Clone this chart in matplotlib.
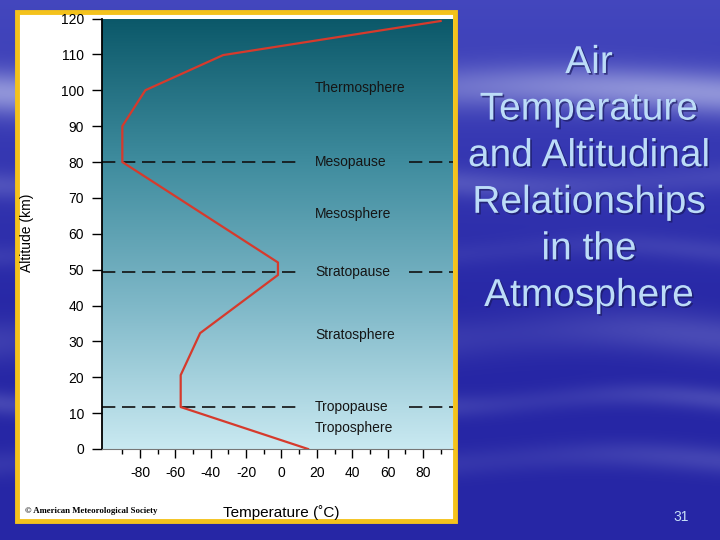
import numpy as np
import matplotlib
matplotlib.use("Agg")
import matplotlib.pyplot as plt
import matplotlib.patheffects as pe
from matplotlib.patches import Rectangle
from matplotlib.colors import LinearSegmentedColormap

plt.rcParams['font.family'] = ['Liberation Sans', 'DejaVu Sans']
plt.rcParams['axes.unicode_minus'] = False

# Data: temperature profile of the standard atmosphere
temperature = [15, -57, -57, -46, -2, -2, -90, -90, -77, -33, 90]
altitude = [0, 11.7, 20.6, 32.3, 48.5, 52, 80, 90, 100, 109.8, 119.3]

# boundaries (dashed) and layer names
pause_names = ["Mesopause", "Stratopause", "Tropopause"]
pause_alt = [80, 49.3, 11.7]
layer_names = ["Thermosphere", "Mesosphere", "Stratosphere", "Troposphere"]
layer_alt = [100.6, 65.5, 31.8, 5.8]

y_ticks = list(range(0, 130, 10))
x_ticks = list(range(-80, 100, 20))
x_minor = list(range(-90, 100, 20))

title_lines = ["Air", "Temperature", "and Altitudinal", "Relationships", "in the", "Atmosphere"]

fig = plt.figure(figsize=(7.2, 5.4), dpi=100)

# slide background (blue sky with soft light streaks)
bg = fig.add_axes([0, 0, 1, 1], zorder=-10)
H, W = 540, 720
yy, xx = np.mgrid[0:H, 0:W]
base = np.array([38, 38, 165]) / 255
light = np.array([200, 205, 240]) / 255
top = np.array([80, 85, 200]) / 255
t = np.clip(1 - yy / 320, 0, 1)[..., None]
img = base * (1 - t * 0.7) + top * t * 0.7
bands = [(92, 22, 0.6, 700, 0.0), (180, 14, 0.22, 500, 1.0), (335, 22, 0.22, 420, 2.0),
         (400, 12, 0.2, 380, 0.5), (460, 14, 0.18, 450, 2.5), (250, 12, 0.12, 400, 1.5)]
for c, w, s, period, ph in bands:
    amp = s * np.exp(-((yy - c - 6 * np.sin(2 * np.pi * xx / period + ph)) / w) ** 2) \
        * (0.75 + 0.25 * np.cos(2 * np.pi * xx / period + ph))
    img = img * (1 - amp[..., None]) + light * amp[..., None]
bg.imshow(img, aspect='auto', extent=(0, W, H, 0))
bg.set_xlim(0, W)
bg.set_ylim(H, 0)
bg.axis('off')

# white panel with yellow frame
fig.patches.append(Rectangle((17 / 720, 19 / 540), 438 / 720, 509 / 540, transform=fig.transFigure,
                             facecolor='white', edgecolor='#f4c21c', linewidth=3.5, zorder=-5))

ax = fig.add_axes([102 / 720, 1 - 449 / 540, 351 / 720, 430.5 / 540])
xlim = (-101.5, 97)
ylim = (0, 120)

# teal gradient behind the plot
cmap = LinearSegmentedColormap.from_list('sky', ['#c9e9f1', '#7fb8c8', '#3f8c9e', '#0b5869'])
grad = np.linspace(0, 1, 256)[:, None]
ax.imshow(grad, cmap=cmap, aspect='auto', extent=(xlim[0], xlim[1], ylim[0], ylim[1]),
          origin='lower', zorder=0)

ax.plot(temperature, altitude, color='#d63a2c', lw=1.6, zorder=3)

for a in pause_alt:
    ax.plot([xlim[0], 9.5], [a, a], color='#111111', lw=1.2, ls=(0, (8, 4)), zorder=2)
    ax.plot([72, xlim[1]], [a, a], color='#111111', lw=1.2, ls=(0, (8, 4)), zorder=2)
for name, a in zip(pause_names, pause_alt):
    ax.text(19, a, name, fontsize=10, color='#151515', va='center', ha='left', zorder=4)
for name, a in zip(layer_names, layer_alt):
    ax.text(19, a, name, fontsize=10, color='#151515', va='center', ha='left', zorder=4)

ax.set_xlim(xlim)
ax.set_ylim(ylim)
ax.set_yticks(y_ticks)
ax.set_xticks(x_ticks)
ax.set_xticks(x_minor, minor=True)
ax.tick_params(axis='y', length=7, width=1, pad=6, labelsize=10, direction='out')
ax.tick_params(axis='x', which='major', length=6.5, width=1, pad=6, labelsize=10, direction='out')
ax.tick_params(axis='x', which='minor', length=3.5, width=1)
for s in ['top', 'right']:
    ax.spines[s].set_visible(False)
ax.spines['left'].set_linewidth(1.3)
ax.spines['bottom'].set_color('#777777')

fig.text(27 / 720, 1 - 233 / 540, "Altitude (km)", rotation=90, fontsize=10, ha='center', va='center')
fig.text(281 / 720, 1 - 513 / 540, "Temperature (˚C)", fontsize=11, ha='center', va='center')
fig.text(25 / 720, 1 - 511 / 540, "© American Meteorological Society", family='Liberation Serif',
         fontweight='bold', fontsize=6.3, ha='left', va='center')

shadow = [pe.withSimplePatchShadow(offset=(1.2, -1.2), shadow_rgbFace='#1a1a60', alpha=0.7)]
for i, line in enumerate(title_lines):
    fig.text(589 / 720, 1 - (63 + i * 46.6) / 540, line, fontsize=28, color='#bcdcf8',
             ha='center', va='center', path_effects=shadow)

fig.text(681 / 720, 1 - 517 / 540, "31", fontsize=10, color='#c8e0f8', ha='center', va='center')

fig.savefig('out.png', dpi=100)
